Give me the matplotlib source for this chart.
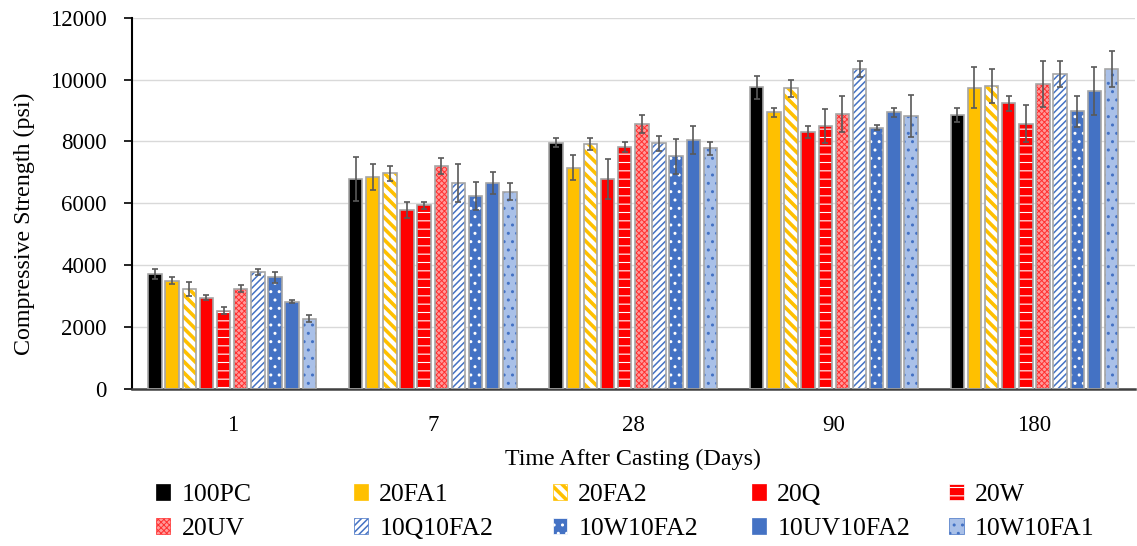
import numpy as np
import matplotlib
matplotlib.use('Agg')
import matplotlib.pyplot as plt
from matplotlib.patches import Patch

plt.rcParams['font.family'] = ['Liberation Serif', 'DejaVu Serif']

days = ['1', '7', '28', '90', '180']
series = ['100PC', '20FA1', '20FA2', '20Q', '20W',
          '20UV', '10Q10FA2', '10W10FA2', '10UV10FA2', '10W10FA1']

# mean strength (psi) per series, one value per age
pc100 = [3710, 6790, 7955, 9745, 8850]
fa1_20 = [3500, 6855, 7150, 8940, 9735]
fa2_20 = [3225, 6965, 7915, 9715, 9790]
q20 = [2950, 5780, 6780, 8315, 9230]
w20 = [2535, 5930, 7815, 8495, 8570]
uv20 = [3245, 7215, 8560, 8875, 9855]
q10fa2 = [3775, 6655, 7935, 10340, 10180]
w10fa2 = [3610, 6235, 7525, 8440, 8970]
uv10fa2 = [2825, 6655, 8045, 8940, 9630]
w10fa1 = [2265, 6380, 7775, 8810, 10340]

# error bar half-widths (psi)
pc100_err = [160, 700, 150, 380, 220]
fa1_20_err = [110, 420, 410, 140, 660]
fa2_20_err = [230, 250, 190, 280, 560]
q20_err = [90, 270, 650, 200, 230]
w20_err = [100, 110, 160, 550, 600]
uv20_err = [120, 260, 280, 580, 740]
q10fa2_err = [100, 610, 230, 260, 420]
w10fa2_err = [170, 440, 570, 80, 510]
uv10fa2_err = [35, 345, 450, 140, 770]
w10fa1_err = [110, 270, 210, 680, 570]

values = [pc100, fa1_20, fa2_20, q20, w20, uv20, q10fa2, w10fa2, uv10fa2, w10fa1]
errors = [pc100_err, fa1_20_err, fa2_20_err, q20_err, w20_err,
          uv20_err, q10fa2_err, w10fa2_err, uv10fa2_err, w10fa1_err]

# (face colour, hatch, hatch colour, hatch linewidth)
styles = [
    ('black', None, 'black', 1.0),
    ('#FFC000', None, '#FFC000', 1.0),
    ('white', '\\\\\\', '#FFC000', 2.6),
    ('#FF0000', None, '#FF0000', 1.0),
    ('#FF0000', '--', 'white', 0.8),
    ('#FF9A9A', 'xxxxxx', '#FF3030', 0.7),
    ('white', '/////', '#4472C4', 1.1),
    ('#4472C4', '..', 'white', 1.0),
    ('#4472C4', None, '#4472C4', 1.0),
    ('#A9C0E8', '..', '#4472C4', 1.0),
]


def set_hlw(patch, lw):
    if hasattr(patch, 'set_hatch_linewidth'):
        patch.set_hatch_linewidth(lw)
    else:
        patch._hatch_linewidth = lw


fig = plt.figure(figsize=(11.37, 5.46), dpi=100)
ax = fig.add_axes([0.116, 0.2876, 0.882, 0.68])

x = np.arange(len(days))
slot = 0.0855
width = 0.067
handles = []
for j, name in enumerate(series):
    fc, hatch, hc, hlw = styles[j]
    pos = x + (j - 4.5) * slot
    bars = ax.bar(pos, values[j], width, color=fc, edgecolor=hc, hatch=hatch,
                  linewidth=0, zorder=2)
    for b in bars:
        set_hlw(b, hlw)
    ax.bar(pos, values[j], width, fill=False, edgecolor='#A6A6A6',
           linewidth=1.2, zorder=3)
    ax.errorbar(pos, values[j], yerr=errors[j], fmt='none', ecolor='#595959',
                elinewidth=1.2, capsize=2.5, capthick=1.2, zorder=4)
    handles.append(Patch(facecolor=fc, edgecolor=hc, hatch=hatch, linewidth=0.5))

ax.set_xlim(-0.5, 4.5)
ax.set_ylim(0, 12000)
ax.set_yticks(range(0, 12001, 2000))
ax.set_xticks(x)
ax.set_xticklabels(days)
ax.yaxis.grid(True, color='#D9D9D9', linewidth=1)
ax.set_axisbelow(True)
ax.tick_params(axis='y', labelsize=16.5, length=6, width=1.2, pad=12)
ax.tick_params(axis='x', labelsize=16.5, length=0, pad=19)
for s in ['top', 'right']:
    ax.spines[s].set_visible(False)
ax.spines['left'].set_linewidth(1.5)
ax.spines['bottom'].set_linewidth(1.8)
ax.spines['bottom'].set_color('#404040')

ax.set_ylabel('Compressive Strength (psi)', fontsize=17.3)
ax.yaxis.set_label_coords(-0.097, 0.446)
ax.set_xlabel('Time After Casting (Days)', fontsize=17.3, labelpad=9)

# one legend per column so the columns are evenly spaced
col_x = [0.137, 0.311, 0.486, 0.661, 0.835]
for c in range(5):
    leg = fig.legend([handles[c], handles[c + 5]], [series[c], series[c + 5]],
                     loc='upper left', bbox_to_anchor=(col_x[c], 0.113),
                     frameon=False, fontsize=18.5, handlelength=0.55,
                     handleheight=0.55, handletextpad=0.45, labelspacing=0.45,
                     borderaxespad=0, borderpad=0)
    for p, k in zip(leg.get_patches(), [c, c + 5]):
        set_hlw(p, styles[k][3])

fig.savefig('out.png', dpi=100)
